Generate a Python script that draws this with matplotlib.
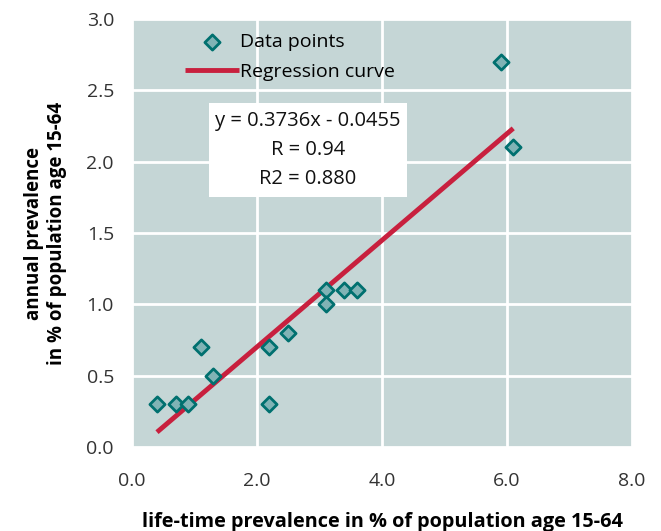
import numpy as np
import matplotlib.pyplot as plt
import matplotlib.patches as mpatches

plt.rcParams['font.family'] = ['Open Sans', 'DejaVu Sans']

# ── Data ──
lifetime = [0.4, 0.7, 0.9, 1.1, 1.3, 2.2, 2.2, 2.5, 3.1, 3.1, 3.4, 3.6, 5.9, 6.1]
annual = [0.3, 0.3, 0.3, 0.7, 0.5, 0.7, 0.3, 0.8, 1.1, 1.0, 1.1, 1.1, 2.7, 2.1]
slope, intercept = 0.3736, -0.0455
x_ticks = [0.0, 2.0, 4.0, 6.0, 8.0]
y_ticks = [0.0, 0.5, 1.0, 1.5, 2.0, 2.5, 3.0]

BG = "#c5d6d6"
LINE = "#c8203e"
EDGE = "#00706f"
FACE = "#80b3b5"

fig = plt.figure(figsize=(6.61, 5.31), dpi=100)
ax = fig.add_axes([0.1997, 0.1582, 0.7564, 0.806])
ax.set_facecolor(BG)

ax.set_xlim(0, 8)
ax.set_ylim(0, 3)
ax.set_xticks(x_ticks)
ax.set_yticks(y_ticks)
ax.set_xticklabels([f"{v:.1f}" for v in x_ticks], fontsize=14)
ax.set_yticklabels([f"{v:.1f}" for v in y_ticks], fontsize=14)
ax.grid(True, color="white", linewidth=2)
ax.set_axisbelow(True)
for s in ax.spines.values():
    s.set_visible(False)
ax.tick_params(axis="x", length=0, pad=18, colors="#333333")
ax.tick_params(axis="y", length=0, pad=13, colors="#333333")

# regression line over the data range
xr = np.array([min(lifetime), max(lifetime)])
ax.plot(xr, slope * xr + intercept, color=LINE, linewidth=3.5,
        solid_capstyle="butt", label="Regression curve", zorder=3)
ax.scatter(lifetime, annual, marker="D", s=60, facecolor=FACE,
           edgecolor=EDGE, linewidth=2, label="Data points", zorder=4)

# equation box
ax.add_patch(mpatches.Rectangle((1.23, 1.75), 3.17, 0.66, facecolor="white",
                                edgecolor="none", zorder=5))
ax.text(2.815, 2.08, f"y = {slope}x - {abs(intercept)}\nR = 0.94\nR2 = 0.880",
        ha="center", va="center", fontsize=14.5, linespacing=1.6,
        color="#111111", zorder=6)

h, l = ax.get_legend_handles_labels()
ax.legend([h[1], h[0]], [l[1], l[0]], loc="upper left",
          bbox_to_anchor=(0.078, 1.0), frameon=False, fontsize=14,
          handlelength=2.8, handletextpad=0.05, labelspacing=0.62,
          borderaxespad=0.3)

ax.set_xlabel("life-time prevalence in % of population age 15-64",
              fontsize=14.3, fontweight="bold", labelpad=16)
ax.set_ylabel("annual prevalence\nin % of population age 15-64",
              fontsize=13.5, fontweight="bold", labelpad=14)

fig.savefig("out.png", dpi=100)
